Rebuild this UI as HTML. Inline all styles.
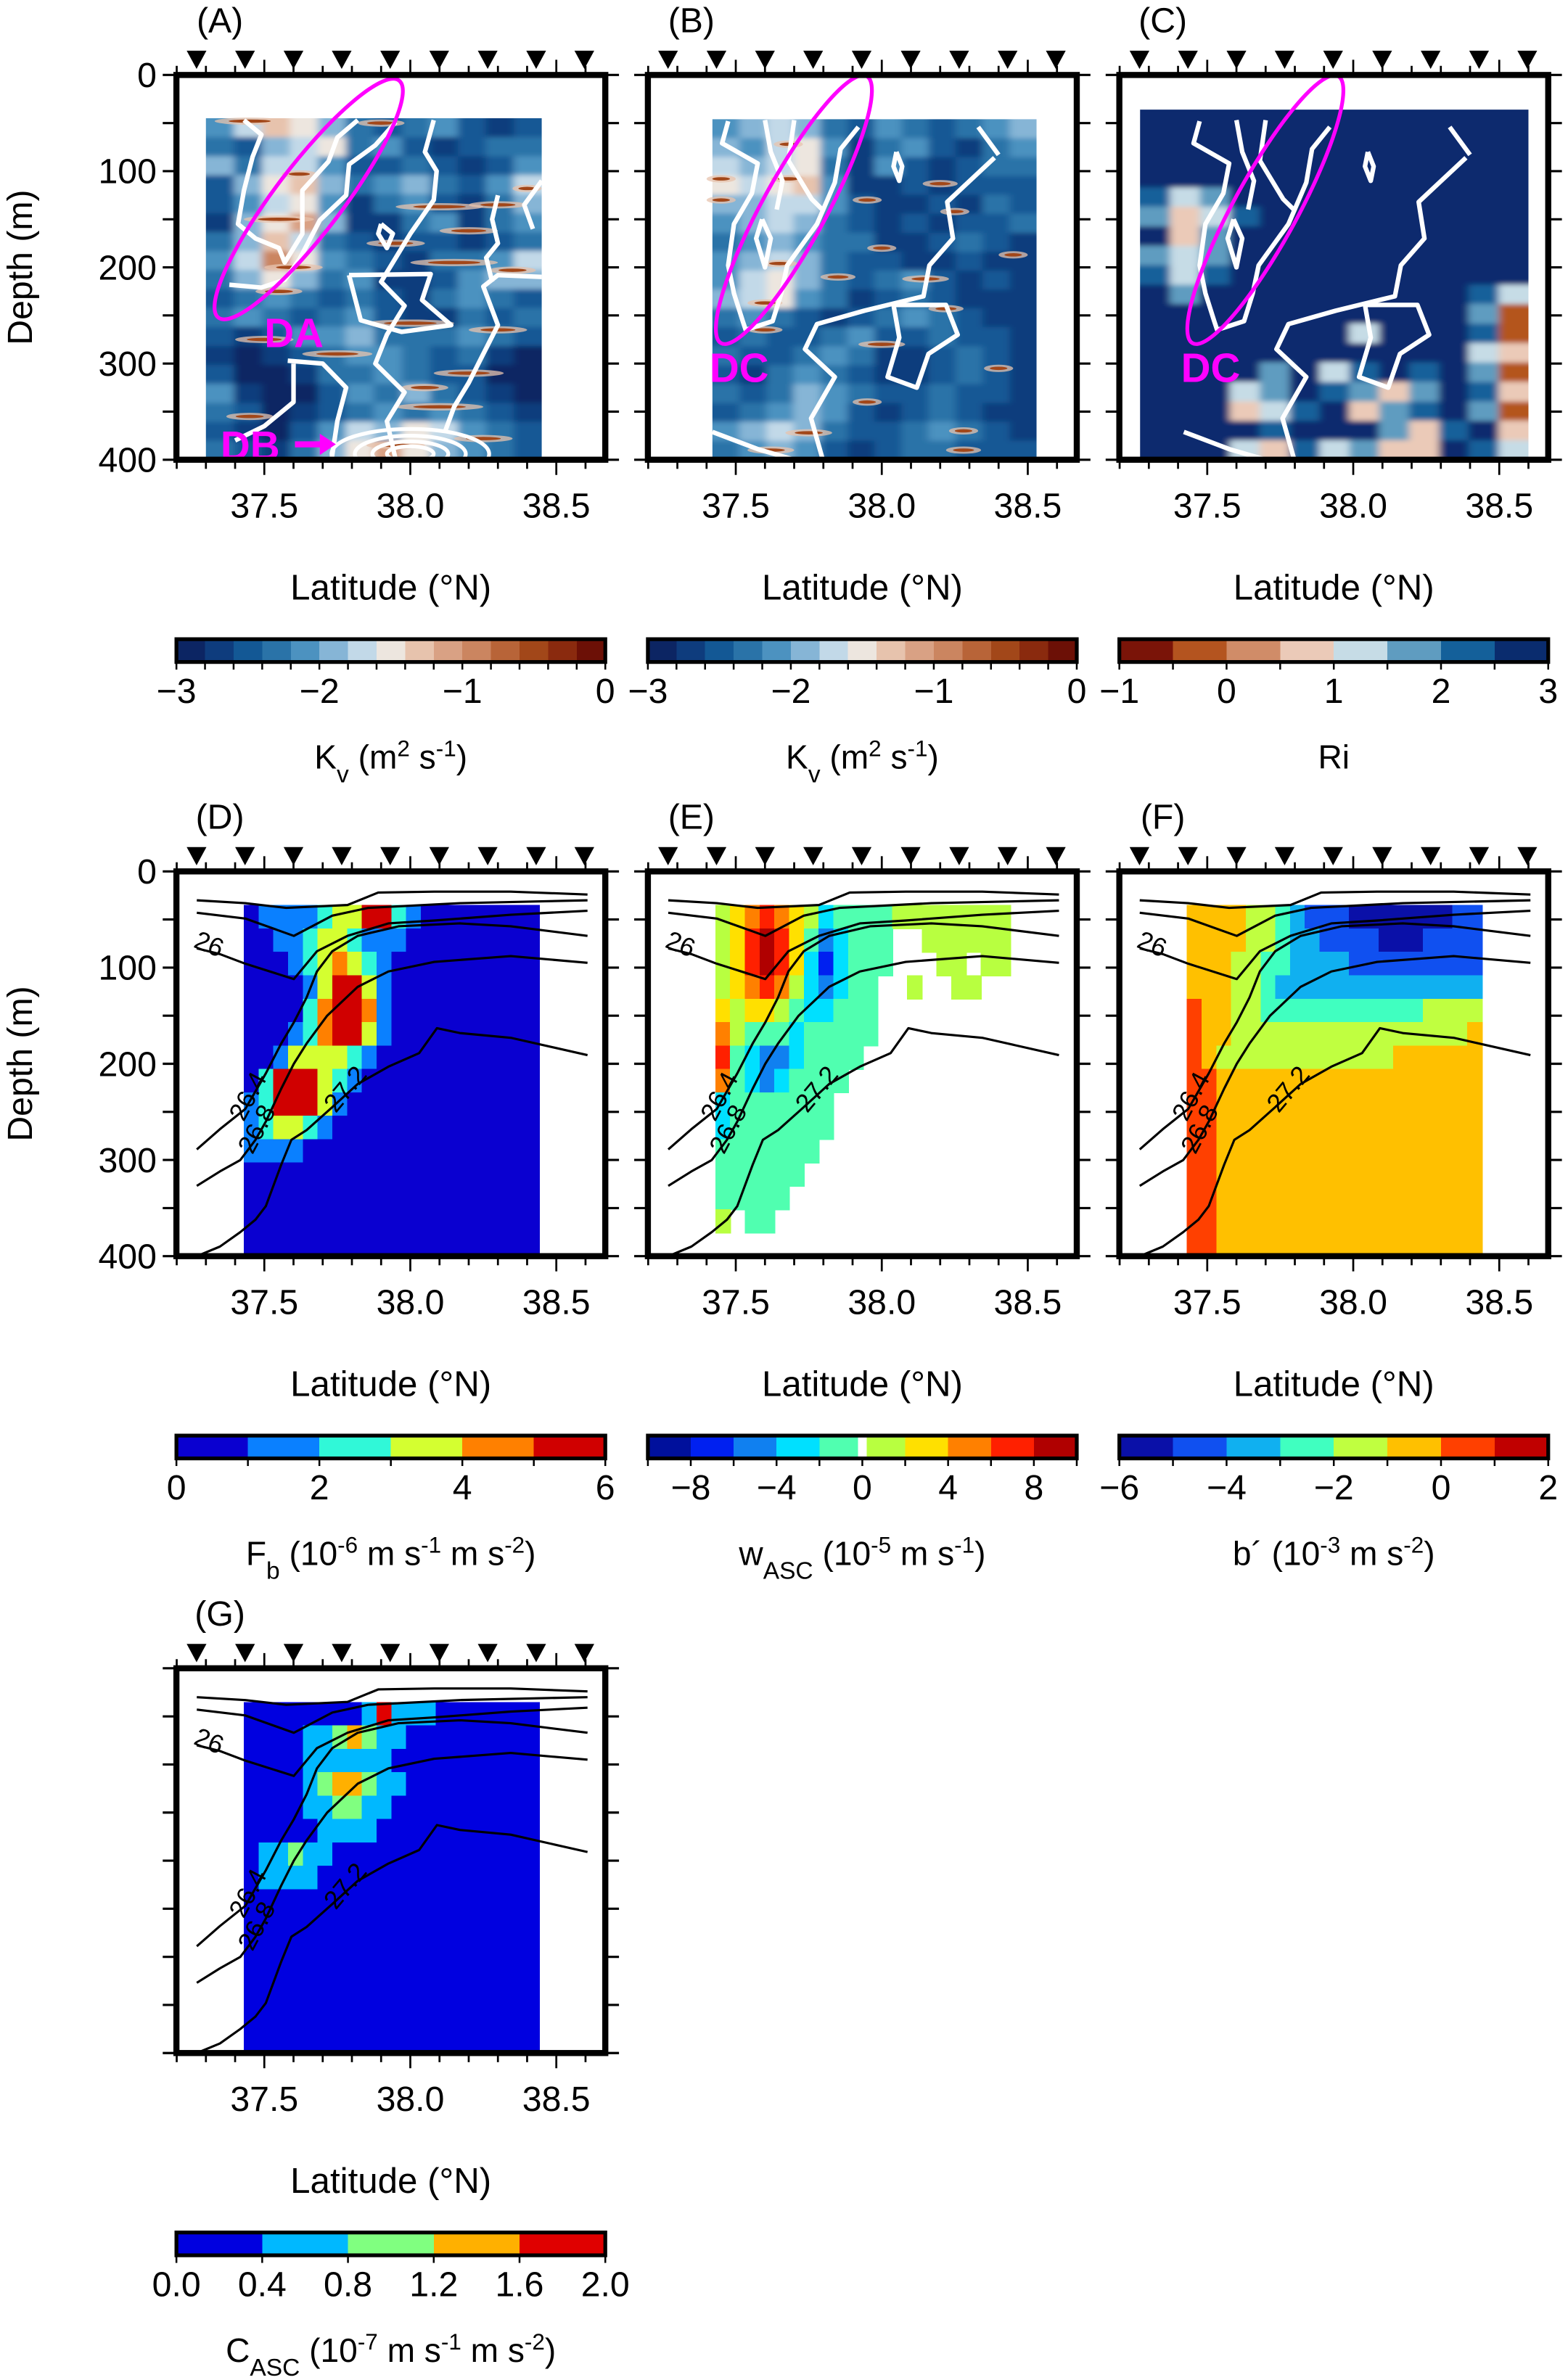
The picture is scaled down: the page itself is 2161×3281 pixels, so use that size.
<!DOCTYPE html>
<html><head><meta charset="utf-8">
<style>html,body{margin:0;padding:0;background:#fff}svg{display:block}text{font-family:"Liberation Sans",Arial,sans-serif}</style>
</head><body>
<svg id="fig" xmlns="http://www.w3.org/2000/svg" width="2161" height="3281" viewBox="0 0 1031 1565" preserveAspectRatio="none">
<defs><filter id="soft" x="-5%" y="-5%" width="110%" height="110%"><feGaussianBlur stdDeviation="2.6 1.6"/></filter></defs>
</svg>
<script>
// ---------- DATA ----------
const stationLats=[37.268,37.434,37.6,37.765,37.931,38.099,38.265,38.431,38.596];
const xTickLabels=[37.5,38.0,38.5];
const yTickLabels=[0,100,200,300,400];
const kvColors=['#0c2563','#0e3c7d','#135895','#2a73a8','#4c92c0','#86b5d6','#c2d9e8','#ede6df','#e7c3ad','#d9a184','#cb8560','#b86438','#a24719','#8a2a0e','#6c1006'];
const riColors=['#7a1408','#b4541f','#d08c68','#ebcab8','#c6dce6','#5f9cc0','#14609a','#0a2c6e'];
const fbColors=['#0a00d0','#0a80ff','#30f8d8','#d4ff30','#ff8000','#d00000'];
const wEdges=[-10,-8,-6,-4,-2,-0.2,0.2,2,4,6,8,10];
const wColors=['#00109c','#0020f0','#1080f0','#00e0ff','#50ffb0','#ffffff','#b8ff40','#ffe000','#ff8000','#ff2000','#b00000'];
const bColors=['#0a10a8','#1050f0','#10b0f0','#40ffc0','#c0ff40','#ffc000','#ff4000','#c00000'];
const cColors=['#0000e0','#00b8ff','#80ff80','#ffb000','#e00000'];
const kvLabels=[-3,-2,-1,0];
const riLabels=[-1,0,1,2,3];
const fbLabels=[0,2,4,6];
const wLabels=[-8,-4,0,4,8];
const bLabels=[-6,-4,-2,0,2];
const cLabels=['0.0','0.4','0.8','1.2','1.6','2.0'];

const kvA=[
[-2.2,-1.8,-1.4,-1.6,-2.0,-2.4,-2.6,-2.4,-2.2,-2.6,-2.8,-2.6],
[-2.4,-2.6,-2.0,-1.8,-1.6,-2.4,-2.2,-2.6,-2.8,-2.6,-2.4,-2.4],
[-2.0,-2.4,-1.8,-1.8,-2.2,-2.6,-2.6,-2.4,-2.6,-2.8,-2.6,-2.2],
[-2.6,-2.0,-1.6,-1.4,-2.0,-2.4,-2.2,-2.0,-2.4,-2.6,-2.2,-1.8],
[-2.6,-2.2,-1.8,-1.6,-2.2,-2.8,-2.4,-2.2,-2.6,-2.8,-2.4,-2.0],
[-2.8,-2.0,-1.6,-1.2,-2.0,-2.8,-2.8,-2.4,-2.2,-2.8,-2.4,-2.2],
[-2.4,-2.0,-1.4,-1.8,-2.4,-2.6,-2.8,-2.6,-2.6,-2.8,-2.6,-2.4],
[-2.2,-1.8,-1.0,-1.6,-2.2,-2.4,-2.6,-2.8,-2.4,-2.4,-2.2,-1.8],
[-2.4,-2.0,-1.6,-2.0,-2.4,-2.2,-2.8,-2.8,-2.6,-2.2,-2.0,-2.0],
[-2.6,-2.4,-2.2,-2.4,-2.6,-2.4,-2.6,-2.8,-2.4,-2.2,-2.4,-2.6],
[-2.4,-2.2,-2.4,-2.6,-2.4,-2.2,-2.6,-2.8,-2.8,-2.4,-2.6,-2.4],
[-2.6,-2.8,-2.6,-2.2,-2.2,-2.0,-2.4,-2.4,-2.4,-2.2,-2.4,-2.6],
[-2.8,-2.9,-2.8,-2.6,-2.4,-2.2,-2.2,-2.4,-2.6,-2.4,-2.8,-2.9],
[-2.6,-2.9,-2.9,-2.8,-2.4,-2.4,-2.2,-2.4,-2.6,-2.6,-2.9,-2.9],
[-2.2,-2.8,-2.9,-2.9,-2.6,-2.2,-2.4,-2.0,-2.4,-2.6,-2.8,-2.9],
[-2.4,-2.6,-2.9,-2.8,-2.6,-2.4,-2.2,-2.4,-2.2,-2.4,-2.6,-2.8],
[-2.6,-2.8,-2.9,-2.6,-2.2,-1.8,-2.0,-1.6,-1.8,-2.2,-2.4,-2.6],
[-2.4,-2.6,-2.8,-2.4,-2.0,-1.6,-1.2,-1.6,-2.0,-2.2,-2.4,-2.6]];
const kvB=[
[-2.2,-2.0,-1.8,-2.0,-2.4,-2.6,-2.2,-2.4,-2.6,-2.4,-2.2,-2.0],
[-2.0,-2.2,-1.8,-1.6,-2.2,-2.8,-2.4,-2.2,-2.6,-2.8,-2.4,-2.2],
[-1.8,-2.0,-1.8,-1.6,-2.4,-2.8,-2.2,-2.6,-2.8,-2.6,-2.4,-2.4],
[-1.6,-1.8,-1.6,-1.4,-2.2,-2.8,-2.8,-2.6,-2.8,-2.6,-2.6,-2.6],
[-2.0,-2.0,-1.8,-1.8,-2.2,-2.6,-2.8,-2.8,-2.6,-2.8,-2.4,-2.6],
[-2.2,-2.0,-1.8,-2.0,-2.4,-2.6,-2.8,-2.6,-2.8,-2.6,-2.6,-2.4],
[-2.4,-2.2,-2.0,-2.2,-2.4,-2.4,-2.8,-2.8,-2.6,-2.4,-2.6,-2.8],
[-2.2,-2.0,-1.8,-2.0,-2.4,-2.6,-2.6,-2.8,-2.8,-2.6,-2.8,-2.8],
[-2.2,-1.8,-1.6,-2.0,-2.4,-2.6,-2.4,-2.2,-2.6,-2.8,-2.6,-2.8],
[-2.0,-1.8,-1.6,-2.2,-2.4,-2.8,-2.6,-2.4,-2.6,-2.8,-2.8,-2.8],
[-2.4,-2.2,-2.4,-2.6,-2.8,-2.6,-2.4,-2.2,-2.4,-2.6,-2.8,-2.8],
[-2.6,-2.4,-2.6,-2.6,-2.4,-2.2,-2.6,-2.6,-2.4,-2.6,-2.6,-2.8],
[-2.4,-2.6,-2.6,-2.4,-2.2,-2.4,-2.8,-2.8,-2.6,-2.4,-2.6,-2.8],
[-2.6,-2.8,-2.4,-2.2,-2.4,-2.6,-2.8,-2.8,-2.6,-2.4,-2.6,-2.8],
[-2.4,-2.6,-2.4,-2.0,-2.2,-2.4,-2.6,-2.6,-2.4,-2.6,-2.6,-2.8],
[-2.6,-2.4,-2.2,-2.0,-2.2,-2.6,-2.8,-2.6,-2.4,-2.6,-2.8,-2.8],
[-2.2,-2.0,-1.8,-2.0,-2.4,-2.6,-2.6,-2.4,-2.2,-2.4,-2.6,-2.8],
[-2.4,-2.2,-2.0,-2.2,-2.6,-2.8,-2.6,-2.4,-2.4,-2.6,-2.6,-2.6]];
const riC=[
[3.5,3.5,3.5,3.5,3.5,3.5,3.5,3.5,3.5,3.5,3.5,3.5,3.5],
[3.5,3.5,3.5,3.5,3.5,3.5,3.5,3.5,3.5,3.5,3.5,3.5,2.5],
[3.5,3.5,3.5,3.5,3.5,3.5,3.5,3.5,3.5,3.5,3.5,3.5,3.5],
[2.5,2.5,3.5,3.5,3.5,3.5,3.5,3.5,3.5,3.5,3.5,3.5,3.5],
[2.0,1.0,1.5,2.5,3.5,3.5,3.5,3.5,3.5,3.5,3.5,3.5,3.5],
[1.5,0.5,1.0,2.0,3.5,3.5,3.5,3.5,3.5,3.5,3.5,3.5,3.5],
[2.5,0.5,1.5,2.5,3.5,3.5,3.5,2.5,3.5,3.5,3.5,3.5,3.5],
[1.5,1.0,1.5,2.5,3.5,3.5,3.5,3.5,3.5,3.5,3.5,3.5,3.5],
[2.0,1.0,2.0,2.5,3.5,3.5,3.5,3.5,2.5,2.5,3.5,3.5,2.5],
[2.5,1.5,2.5,2.5,3.5,3.5,3.5,3.5,3.5,3.5,2.5,2.0,1.0],
[3.5,2.5,2.5,3.5,3.5,3.5,2.5,3.5,3.5,2.5,2.5,1.5,-0.5],
[3.5,3.5,3.5,3.5,3.5,2.5,3.5,1.0,3.5,3.5,2.5,2.0,-0.5],
[3.5,3.5,3.5,3.5,2.5,3.5,2.5,2.5,3.5,2.5,3.5,1.0,0.5],
[3.5,3.5,3.5,2.5,1.5,2.5,1.0,2.0,2.5,2.0,2.5,1.5,-0.5],
[3.5,3.5,2.5,1.0,1.5,2.5,2.0,1.5,0.5,1.5,2.5,2.0,0.5],
[3.5,3.5,2.5,0.5,1.0,2.0,2.5,0.5,1.5,2.0,2.5,1.5,-0.5],
[3.5,3.5,3.5,2.5,2.0,2.5,3.5,2.5,1.5,0.5,2.0,2.5,0.5],
[3.5,3.5,2.5,1.0,0.5,2.0,1.0,1.5,0.5,0.5,2.5,2.0,1.0]];
const streaksA=[[37.45,48,0.12],[37.9,50,0.08],[37.55,150,0.12],[37.6,200,0.1],[37.55,225,0.08],[38.1,137,0.15],[38.3,135,0.1],[38.2,162,0.1],[37.95,175,0.1],[38.15,195,0.15],[38.35,203,0.08],[37.5,275,0.1],[38.0,258,0.15],[38.3,265,0.1],[37.75,290,0.12],[38.2,310,0.12],[38.05,325,0.08],[37.45,355,0.08],[38.1,345,0.15],[37.95,385,0.1],[38.25,378,0.1],[37.62,103,0.06],[38.4,118,0.05]];
const streaksB=[[37.68,72,0.05],[37.68,108,0.06],[37.45,108,0.05],[37.45,130,0.05],[37.95,130,0.05],[38.2,113,0.06],[38.25,142,0.05],[37.65,196,0.06],[37.85,210,0.06],[38.0,180,0.05],[37.6,237,0.06],[37.6,265,0.06],[38.15,212,0.08],[38.22,243,0.06],[38.0,280,0.08],[38.4,305,0.05],[37.95,340,0.05],[37.75,372,0.08],[37.62,390,0.08],[38.28,370,0.05],[38.28,390,0.06],[38.45,187,0.05]];
const contoursA=[
[[37.38,218],[37.49,221],[37.57,213],[37.62,192],[37.69,151],[37.78,125],[37.79,93],[37.88,73],[37.95,49]],
[[37.43,47],[37.49,62],[37.46,85],[37.43,120],[37.41,155],[37.47,170],[37.55,180],[37.57,195],[37.63,165],[37.63,120],[37.72,90],[37.75,65],[37.82,47]],
[[38.08,47],[38.05,80],[38.09,100],[38.08,130],[38.0,165],[37.95,190],[37.9,215],[37.98,240],[37.92,270],[37.88,300],[37.98,330],[37.92,360],[37.95,400]],
[[37.79,208],[38.07,207],[38.04,234],[38.14,260],[37.97,267],[37.83,255],[37.79,208]],
[[38.45,110],[38.39,135],[38.42,160]],
[[38.45,210],[38.3,208],[38.25,220],[38.3,260],[38.25,290],[38.2,320],[38.15,345],[38.12,370]],
[[37.58,297],[37.7,300],[37.78,325],[37.75,360],[37.73,400]],
[[37.6,300],[37.6,340],[37.5,365],[37.4,380]],
[[37.9,155],[37.94,165],[37.92,180],[37.89,165],[37.9,155]],
[[38.3,125],[38.28,150],[38.3,175],[38.26,190],[38.28,215]]];
const contoursBC=[
[[37.474,48],[37.453,71],[37.575,92],[37.555,123],[37.494,155],[37.474,198],[37.494,227],[37.524,256],[37.534,265],[37.626,256],[37.656,227],[37.676,198],[37.778,155],[37.839,112],[37.859,77],[37.92,54]],
[[37.59,150],[37.62,170],[37.6,200],[37.57,170],[37.59,150]],
[[37.7,47],[37.68,89],[37.76,129],[37.8,141]],
[[37.6,47],[37.62,80],[37.66,110],[37.64,140]],
[[38.386,86],[38.224,132],[38.244,170],[38.163,198],[38.143,230],[37.94,245],[37.778,259],[37.737,285],[37.839,314],[37.758,357],[37.798,400]],
[[38.04,239],[38.22,239],[38.26,270],[38.16,290],[38.12,325],[38.02,314],[38.06,273],[38.04,239]],
[[38.05,80],[38.07,95],[38.06,110],[38.04,95],[38.05,80]],
[[38.33,54],[38.4,83]],
[[37.42,371],[37.575,389],[37.7,400]]];
const dbRings=[[0.08,8],[0.13,13],[0.19,19],[0.27,26]];
const fbD=[
[0,1,1,1,1,2,3,3,6,6,2,1],
[0,0,1,1,2,3,3,2,1,1,1],
[0,0,0,1,2,3,4,3,2,1],
[0,0,0,0,1,3,5,5,3,1],
[0,0,0,0,2,4,6,6,4,1],
[0,0,0,1,2,4,6,5,3,1],
[0,0,1,3,3,3,3,2,1],
[0,2,5,6,6,3,2,1],
[1,2,5,6,5,3,1],
[1,2,3,3,2,1],
[1,1,1,1]];
const wE=[
[1,3,5,7,5,3,1,-3,-1,-1,-1,-1,1,1,1,1,1,1,1,1],
[1,3,7,9,7,3,-1,-5,-3,-1,-1,-1,null,null,1,1,1,1,1,1],
[1,3,7,9,7,3,-3,-7,-3,-1,-1,-1,null,null,null,1,1,null,1,1],
[1,3,5,7,5,1,-3,-5,-3,-1,-1,null,null,1,null,null,1,1,null,null],
[3,1,3,3,1,-1,-3,-3,-1,-1,-1],
[5,1,-1,-1,-1,-3,-1,-1,-1,-1,-1],
[7,-1,-3,-5,-5,-3,-1,-1,-1,-1],
[5,-1,-3,-5,-3,-1,-1,-1,-1],
[-3,-1,-1,-1,-1,-1,-1,-1],
[-3,-1,-1,-1,-1,-1,-1,-1],
[-1,-1,-1,-1,-1,-1,-1],
[-1,-1,-1,-1,-1,-1],
[-1,-1,-1,-1,-1],
[1,null,-1,-1]];
const bF=[
[-0.5,-0.5,-0.5,-0.5,-1.5,-1.5,-2.5,-3.5,-4.5,-4.5,-4.5,-5.5,-5.5,-5.5,-5.5,-5.5,-5.5,-5.5,-4.5,-4.5],
[-0.5,-0.5,-0.5,-0.5,-1.5,-1.5,-2.5,-3.5,-3.5,-4.5,-4.5,-4.5,-4.5,-5.5,-5.5,-5.5,-4.5,-4.5,-4.5,-4.5],
[-0.5,-0.5,-0.5,-1.5,-1.5,-2.5,-2.5,-3.5,-3.5,-3.5,-3.5,-4.5,-4.5,-4.5,-4.5,-4.5,-4.5,-4.5,-4.5,-4.5],
[-0.5,-0.5,-0.5,-1.5,-1.5,-2.5,-3.5,-3.5,-3.5,-3.5,-3.5,-3.5,-3.5,-3.5,-3.5,-3.5,-3.5,-3.5,-3.5,-3.5],
[0.5,-0.5,-0.5,-1.5,-1.5,-2.5,-2.5,-2.5,-2.5,-2.5,-2.5,-2.5,-2.5,-2.5,-2.5,-2.5,-1.5,-1.5,-1.5,-1.5],
[0.5,-0.5,-0.5,-1.5,-1.5,-1.5,-1.5,-1.5,-1.5,-1.5,-1.5,-1.5,-1.5,-1.5,-1.5,-1.5,-1.5,-1.5,-1.5,-0.5],
[0.5,-0.5,-1.5,-1.5,-1.5,-1.5,-1.5,-1.5,-1.5,-1.5,-1.5,-1.5,-1.5,-1.5,-0.5,-0.5,-0.5,-0.5,-0.5,-0.5],
[0.5,0.5],[0.5,0.5],[0.5,0.5],[0.5,0.5],[0.5,0.5],[0.5,0.5],[0.5,0.5],[0.5,0.5]];
const cG=[
[0.2,0.2,0.2,0.2,0.2,0.2,0.2,0.2,0.6,1.8,0.6,0.6,0.6],
[0.2,0.2,0.2,0.2,0.6,0.6,1.0,1.4,1.0,0.6,0.6],
[0.2,0.2,0.2,0.2,0.6,0.6,0.6,0.6,0.6,0.6],
[0.2,0.2,0.2,0.2,0.6,1.0,1.4,1.4,1.0,0.6,0.6],
[0.2,0.2,0.2,0.2,0.6,0.6,1.0,1.0,0.6,0.6],
[0.2,0.2,0.2,0.2,0.2,0.6,0.6,0.6,0.6],
[0.2,0.6,0.6,1.0,0.6,0.6],
[0.2,0.6,0.6,0.6,0.6]];
const isopycnals=[
{label:'',pts:[[37.269,30],[37.435,33],[37.575,38],[37.785,35],[37.89,22],[38.082,21],[38.344,21],[38.607,24]]},
{label:'',pts:[[37.269,43],[37.435,49],[37.601,67],[37.733,46],[37.855,38],[38.17,33],[38.607,30]]},
{label:'26',pts:[[37.269,80],[37.348,86],[37.435,96],[37.601,112],[37.68,83],[37.785,67],[37.925,54],[38.082,51],[38.344,45],[38.607,41]]},
{label:'26.4',pts:[[37.269,289],[37.348,268],[37.435,247],[37.505,210],[37.558,179],[37.601,157],[37.645,131],[37.68,104],[37.733,83],[37.82,67],[37.96,57],[38.17,54],[38.344,57],[38.607,67]]},
{label:'26.8',pts:[[37.269,327],[37.348,312],[37.418,300],[37.47,279],[37.505,260],[37.558,226],[37.601,200],[37.645,179],[37.715,150],[37.82,120],[37.925,104],[38.082,94],[38.344,88],[38.607,95]]},
{label:'27.2',pts:[[37.269,400],[37.348,390],[37.418,375],[37.47,362],[37.505,348],[37.558,305],[37.593,279],[37.645,269],[37.733,245],[37.82,221],[37.925,203],[38.03,189],[38.091,163],[38.17,168],[38.344,173],[38.607,191]]}];
const isoLabels=[['26',37.30,84,22],['26.4',37.47,238,-62],['26.8',37.50,272,-62],['27.2',37.80,232,-50]];

// ---------- LAYOUT ----------
const NS='http://www.w3.org/2000/svg';
const svg=document.getElementById('fig');
const LAT_MIN=37.199, PXDEG=192, W=282, H=253;
function mk(parent,tag,attrs,txt){const e=document.createElementNS(NS,tag);for(const k in attrs)e.setAttribute(k,attrs[k]);if(txt!==undefined)e.textContent=txt;parent.appendChild(e);return e;}
const X=(p,lat)=>p.x0+(lat-LAT_MIN)*PXDEG;
const Y=(p,d)=>p.y0+d*H/400;
function binColor(v,edges,colors){if(v===null||v===undefined)return null;for(let i=0;i<colors.length;i++){if(v<edges[i+1])return colors[i];}return colors[colors.length-1];}
function linEdges(a,b,n){const e=[];for(let i=0;i<=n;i++)e.push(a+(b-a)*i/n);return e;}
const kvEdges=linEdges(-3,0,15),riEdges=linEdges(-1,3,8),fbEdges=linEdges(0,6,6),bEdges=linEdges(-6,2,8),cEdges=linEdges(0,2,5);

let clipId=0;
function panel(x0,y0,letter,showY){
  const p={x0:x0,y0:y0};
  const g=mk(svg,'g',{});
  
  
  const defs=mk(g,'defs',{});
  const cp=mk(defs,'clipPath',{id:'clip'+(++clipId)});
  mk(cp,'rect',{x:x0,y:y0,width:W,height:H});
  p.g=g;
  p.plot=mk(g,'g',{'clip-path':'url(#clip'+clipId+')'});
  
  
  p.letter=letter;p.showY=showY;
  return p;
}
function drawGrid(p,grid,ncols,lat0,lat1,d0,d1,edges,colors,def,name,blur){
  let parent=p.plot;
  if(blur){
    const cid='gclip'+(++clipId);
    const cp=mk(p.g.querySelector('defs'),'clipPath',{id:cid});
    mk(cp,'rect',{x:X(p,lat0),y:Y(p,d0),width:X(p,lat1)-X(p,lat0),height:Y(p,d1)-Y(p,d0)});
    parent=mk(p.plot,'g',{'clip-path':'url(#'+cid+')'});
  }
  const gg=mk(parent,'g',{'shape-rendering':'crispEdges'});
  if(blur)gg.setAttribute('filter','url(#soft)');
  
  
  const rows=grid.length;
  const dl=(lat1-lat0)/ncols, dd=(d1-d0)/rows;
  for(let i=0;i<rows;i++)for(let j=0;j<ncols;j++){
    let v=(grid[i]&&grid[i][j]!==undefined)?grid[i][j]:def;
    const c=binColor(v,edges,colors); if(!c)continue;
    let xa=X(p,lat0+j*dl),xb=X(p,lat0+(j+1)*dl),ya=Y(p,d0+i*dd),yb=Y(p,Math.min(d1,d0+(i+1)*dd));
    if(blur){if(j===0)xa-=6;if(j===ncols-1)xb+=6;if(i===0)ya-=6;if(i===rows-1)yb+=6;}
    const r=mk(gg,'rect',{x:xa,y:ya,width:xb-xa+0.6,height:yb-ya+0.6,fill:c});
    
    
  }
}
function fixedGrid(p,grid,ncols,nrows,lat0,lat1,d0,d1,edges,colors,def,name,blur){
  const padded=[];for(let i=0;i<nrows;i++)padded.push(grid[i]||[]);
  drawGrid(p,padded,ncols,lat0,lat1,d0,d1,edges,colors,def,name,blur);
}
function drawStreaks(p,list){
  for(const s of list){
    const cx=X(p,s[0]),cy=Y(p,s[1]),rx=s[2]*PXDEG;
    const h=mk(p.plot,'ellipse',{cx:cx,cy:cy,rx:rx,ry:2.4,fill:binColor(-1.3,kvEdges,kvColors),opacity:0.75});
    
    
    const e=mk(p.plot,'ellipse',{cx:cx,cy:cy,rx:rx*0.6,ry:1.1,fill:binColor(-0.5,kvEdges,kvColors)});
    
    
  }
}
function drawLines(p,lines,color,sw,name){
  for(const l of lines){
    const pts=l.map(q=>X(p,q[0]).toFixed(1)+','+Y(p,q[1]).toFixed(1)).join(' ');
    const e=mk(p.plot,'polyline',{points:pts,fill:'none',stroke:color,'stroke-width':sw,'stroke-linejoin':'round'});
    
    
  }
}
function drawIsopycnals(p){
  drawLines(p,isopycnals.map(o=>o.pts),'#000',1.5,'isopycnal-line');
  for(const l of isoLabels){
    const t=mk(p.plot,'text',{x:X(p,l[1]),y:Y(p,l[2]),'font-size':17,'text-anchor':'middle',transform:'rotate('+l[3]+' '+X(p,l[1])+' '+Y(p,l[2])+')'},l[0]);
    
    
  }
}
function finish(p){
  const g=p.g,x0=p.x0,y0=p.y0;
  const fr=mk(g,'rect',{x:x0,y:y0,width:W,height:H,fill:'none',stroke:'#000','stroke-width':4});
  
  
  for(let k=0;k<=14;k++){
    const lat=37.2+k*0.1,x=X(p,lat);const major=(k===3||k===8||k===13);
    const L=major?10:6;
    const t1=mk(g,'line',{x1:x,y1:y0+H,x2:x,y2:y0+H+L,stroke:'#000','stroke-width':1.3});
    
    
    const t2=mk(g,'line',{x1:x,y1:y0,x2:x,y2:y0-L,stroke:'#000','stroke-width':1.3});
    
    
  }
  for(let d=0;d<=400;d+=50){
    const y=Y(p,d),L=9;
    const a=mk(g,'line',{x1:x0-L,y1:y,x2:x0,y2:y,stroke:'#000','stroke-width':1.5});
    
    
    const b=mk(g,'line',{x1:x0+W,y1:y,x2:x0+W+L,y2:y,stroke:'#000','stroke-width':1.5});
    
    
  }
  for(const v of xTickLabels){
    const t=mk(g,'text',{x:X(p,v),y:y0+H+38,'font-size':23,'text-anchor':'middle'},v.toFixed(1));
    
    
  }
  if(p.showY){
    for(const v of yTickLabels){
      const t=mk(g,'text',{x:x0-13,y:Y(p,v)+8,'font-size':23,'text-anchor':'end'},String(v));
      
      
    }
    const cy=y0+H/2;
    const yl=mk(g,'text',{x:21,y:cy,'font-size':23,'text-anchor':'middle',transform:'rotate(-90 21 '+cy+')'},'Depth (m)');
    
    
  }
  for(const s of stationLats){
    const x=X(p,s);
    const tr=mk(g,'polygon',{points:(x-6.5)+','+(y0-16)+' '+(x+6.5)+','+(y0-16)+' '+x+','+(y0-4),fill:'#000'});
    
    
  }
  const pl=mk(g,'text',{x:x0+28.6,y:y0-28,'font-size':23,'text-anchor':'middle'},'('+p.letter+')');
  
  
  const xl=mk(g,'text',{x:x0+W/2,y:y0+H+92,'font-size':23.5,'text-anchor':'middle'},'Latitude (°N)');
  
  
}
function colorbar(p,edges,colors,labels,labelFmt,unitsParts,tickEdges){
  const x0=p.x0,y=p.y0+H+118,h=15;
  const g=mk(svg,'g',{});
  
  
  const lo=edges[0],hi=edges[edges.length-1];
  const cx=v=>x0+(v-lo)/(hi-lo)*W;
  for(let i=0;i<colors.length;i++){
    const r=mk(g,'rect',{x:cx(edges[i]),y:y,width:cx(edges[i+1])-cx(edges[i])+0.5,height:h,fill:colors[i],'shape-rendering':'crispEdges'});
    
    
  }
  const b=mk(g,'rect',{x:x0,y:y,width:W,height:h,fill:'none',stroke:'#000','stroke-width':2.5});
  
  
  for(const e of (tickEdges||edges)){
    const t=mk(g,'line',{x1:cx(e),y1:y+h,x2:cx(e),y2:y+h+5,stroke:'#000','stroke-width':1.2});
    
    
  }
  for(const l of labels){
    const v=parseFloat(l);
    const t=mk(g,'text',{x:cx(v),y:y+h+27,'font-size':23,'text-anchor':'middle'},labelFmt(l));
    
    
  }
  const u=mk(g,'text',{x:x0+W/2,y:y+h+70,'font-size':22,'text-anchor':'middle'});
  
  
  for(const part of unitsParts){
    const ts=mk(u,'tspan',{},part[0]);
    if(part[1]==='sup'){ts.setAttribute('baseline-shift','super');ts.setAttribute('font-size','15');}
    if(part[1]==='sub'){ts.setAttribute('baseline-shift','sub');ts.setAttribute('font-size','16');}
  }
}
const fmtMinus=l=>String(l).replace('-','\u2212');
const kvUnits=[['K'],['v','sub'],[' (m'],['2','sup'],[' s'],['-1','sup'],[')']];

// ---------- PANELS ----------
const rowY=[49.3,573,1097], colX=[116,426,736];
const pA=panel(colX[0],rowY[0],'A',true);
fixedGrid(pA,kvA,12,18,37.30,38.45,45,400,kvEdges,kvColors,-2.4,'kv-heatmap-a',true);
drawStreaks(pA,streaksA);
drawLines(pA,contoursA,'#fff',3,'white-contour');
for(const r of dbRings){
  const e=mk(pA.plot,'ellipse',{cx:X(pA,38.0),cy:Y(pA,394),rx:r[0]*PXDEG,ry:r[1]*H/400,fill:'none',stroke:'#fff','stroke-width':2.5});
  
  
}
const pB=panel(colX[1],rowY[0],'B',false);
fixedGrid(pB,kvB,12,18,37.42,38.53,46,400,kvEdges,kvColors,-2.4,'kv-heatmap-b',true);
drawStreaks(pB,streaksB);
drawLines(pB,contoursBC,'#fff',3,'white-contour');
const pC=panel(colX[2],rowY[0],'C',false);
fixedGrid(pC,riC,13,18,37.27,38.60,36,400,riEdges,riColors,3.5,'ri-heatmap-c',true);
drawLines(pC,contoursBC,'#fff',3,'white-contour');
function ellipse(p,lat,dep,rx,ry,ang){
  const cx=X(p,lat),cy=Y(p,dep);
  const e=mk(p.g,'ellipse',{cx:cx,cy:cy,rx:rx,ry:ry,fill:'none',stroke:'#ff00ff','stroke-width':2.5,transform:'rotate('+(-ang)+' '+cx+' '+cy+')'});
  
  
}
function tag(p,txt,lat,dep,name){
  const t=mk(p.g,'text',{x:X(p,lat),y:Y(p,dep),'font-size':27,'font-weight':'bold',fill:'#ff00ff'},txt);
  
  
}
ellipse(pA,37.652,129,98,22,52.7);
ellipse(pB,37.699,140,100,21,61.4);
ellipse(pC,37.699,140,100,21,61.4);
tag(pA,'DA',37.50,283,'label-da');
tag(pA,'DB',37.35,400,'label-db');
tag(pB,'DC',37.41,319,'label-dc');
tag(pC,'DC',37.41,319,'label-dc');
const arr=mk(pA.g,'path',{d:'M'+X(pA,37.605)+' '+Y(pA,384)+' L'+X(pA,37.70)+' '+Y(pA,384),stroke:'#ff00ff','stroke-width':4,fill:'none'});


const ah=mk(pA.g,'polygon',{points:(X(pA,37.745))+','+Y(pA,384)+' '+(X(pA,37.69))+','+(Y(pA,384)-7)+' '+(X(pA,37.69))+','+(Y(pA,384)+7),fill:'#ff00ff'});


const pD=panel(colX[0],rowY[1],'D',true);
fixedGrid(pD,fbD,20,15,37.43,38.44,35,400,fbEdges,fbColors,0,'fb-heatmap-d');
drawIsopycnals(pD);
const pE=panel(colX[1],rowY[1],'E',false);
fixedGrid(pE,wE,20,15,37.43,38.44,35,400,wEdges,wColors,null,'w-heatmap-e');
drawIsopycnals(pE);
const pF=panel(colX[2],rowY[1],'F',false);
fixedGrid(pF,bF,20,15,37.43,38.44,35,400,bEdges,bColors,-0.5,'b-heatmap-f');
drawIsopycnals(pF);
const pG=panel(colX[0],rowY[2],'G',false);
fixedGrid(pG,cG,20,15,37.43,38.44,35,400,cEdges,cColors,0.2,'c-heatmap-g');
drawIsopycnals(pG);

[pA,pB,pC,pD,pE,pF,pG].forEach(finish);

colorbar(pA,kvEdges,kvColors,kvLabels,fmtMinus,kvUnits);
colorbar(pB,kvEdges,kvColors,kvLabels,fmtMinus,kvUnits);
colorbar(pC,riEdges,riColors,riLabels,fmtMinus,[['Ri']]);
colorbar(pD,fbEdges,fbColors,fbLabels,fmtMinus,[['F'],['b','sub'],[' (10'],['-6','sup'],[' m s'],['-1','sup'],[' m s'],['-2','sup'],[')']]);
colorbar(pE,wEdges,wColors,wLabels,fmtMinus,[['w'],['ASC','sub'],[' (10'],['-5','sup'],[' m s'],['-1','sup'],[')']],[-10,-8,-6,-4,-2,0,2,4,6,8,10]);
colorbar(pF,bEdges,bColors,bLabels,fmtMinus,[['b\u00b4 (10'],['-3','sup'],[' m s'],['-2','sup'],[')']]);
colorbar(pG,cEdges,cColors,cLabels,l=>l,[['C'],['ASC','sub'],[' (10'],['-7','sup'],[' m s'],['-1','sup'],[' m s'],['-2','sup'],[')']]);
</script>
</body></html>
